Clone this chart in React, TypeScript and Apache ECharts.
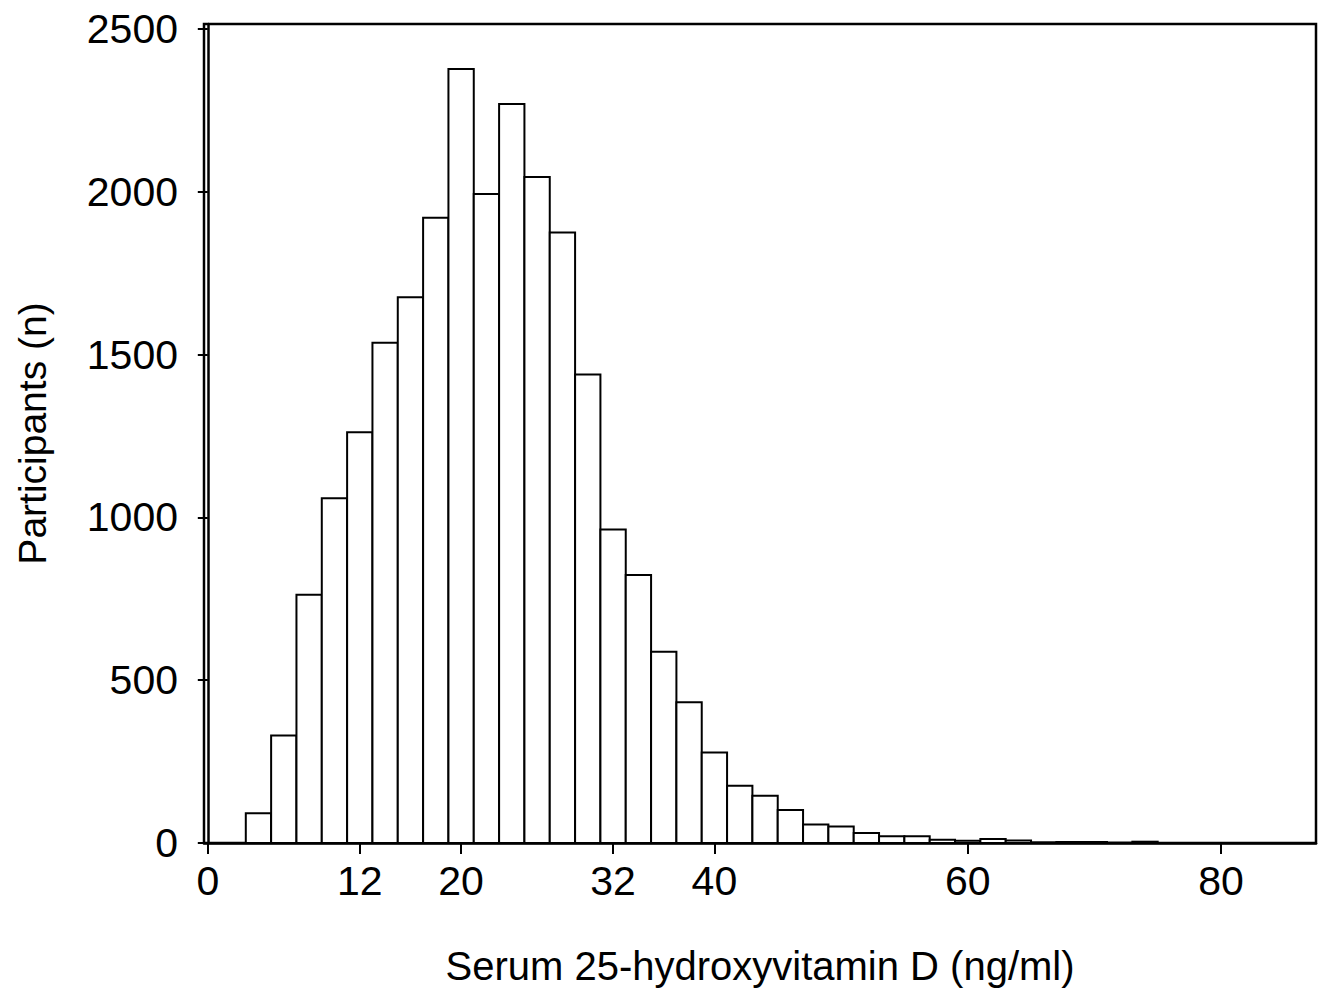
import React, { useEffect, useRef } from "react";
import * as echarts from "echarts";

// Histogram bin edges (ng/ml) and participant counts per bin
const binEdges = [3, 5, 7, 9, 11, 13, 15, 17, 19, 21, 23, 25, 27, 29, 31, 33, 35, 37, 39, 41, 43, 45, 47, 49, 51, 53, 55, 57, 59, 61, 63, 65, 67, 69, 71, 73, 75];
const counts = [91, 330, 762, 1059, 1261, 1536, 1676, 1920, 2377, 1993, 2269, 2045, 1875, 1439, 963, 823, 587, 432, 278, 176, 145, 101, 57, 51, 31, 21, 21, 10, 7, 12, 8, 2, 3, 3, 1, 4];

const xTicks = [0, 12, 20, 32, 40, 60, 80];
const yTicks = [0, 500, 1000, 1500, 2000, 2500];

const xTitle = "Serum 25-hydroxyvitamin D (ng/ml)";
const yTitle = "Participants (n)";

const FONT = "'Liberation Sans', Arial, Helvetica, sans-serif";

export default function App() {
  const ref = useRef<HTMLDivElement>(null);

  useEffect(() => {
    if (!ref.current) return;
    const chart = echarts.init(ref.current, null, { renderer: "svg" });
    const data = counts.map((c, i) => [binEdges[i], binEdges[i + 1], c]);

    chart.setOption({
      animation: false,
      backgroundColor: "#fff",
      textStyle: { fontFamily: FONT, color: "#000" },
      grid: {
        left: 204,
        right: 7,
        top: 24,
        bottom: 145,
        containLabel: false,
        outerBoundsMode: "none",
        show: true,
        borderColor: "#000",
        borderWidth: 2.5,
        backgroundColor: "transparent",
      },
      xAxis: {
        type: "value",
        min: -0.3,
        max: 87.5,
        name: xTitle,
        nameLocation: "middle",
        nameGap: 103,
        nameTextStyle: { fontSize: 40, color: "#000", fontFamily: FONT, verticalAlign: "top" },
        axisLine: { show: true, onZero: false, lineStyle: { color: "#000", width: 2.5 } },
        axisTick: { show: true, length: 11, customValues: xTicks, lineStyle: { color: "#000", width: 2 } },
        axisLabel: {
          customValues: xTicks,
          fontSize: 41,
          color: "#000",
          margin: 17,
          fontFamily: FONT,
          formatter: (v: number) => String(v),
        },
        splitLine: { show: false },
      },
      yAxis: {
        type: "value",
        min: 0,
        max: 2515,
        name: yTitle,
        nameLocation: "middle",
        nameGap: 152,
        nameRotate: 90,
        nameTextStyle: { fontSize: 39, color: "#000", fontFamily: FONT },
        axisLine: { show: true, lineStyle: { color: "#000", width: 2.5 } },
        axisTick: { show: true, length: 10, customValues: yTicks, lineStyle: { color: "#000", width: 2 } },
        axisLabel: {
          customValues: yTicks,
          fontSize: 41,
          color: "#000",
          margin: 26,
          fontFamily: FONT,
          formatter: (v: number) => String(v),
        },
        splitLine: { show: false },
      },
      series: [
        {
          type: "custom",
          data,
          encode: { x: [0, 1], y: 2 },
          clip: true,
          renderItem: (params: any, api: any) => {
            const lo = api.value(0);
            const hi = api.value(1);
            const n = api.value(2);
            const p0 = api.coord([lo, n]);
            const p1 = api.coord([hi, 0]);
            return {
              type: "rect",
              shape: { x: p0[0], y: p0[1], width: p1[0] - p0[0], height: p1[1] - p0[1] },
              style: { fill: "#fff", stroke: "#000", lineWidth: 2 },
            };
          },
        },
      ],
    });

    return () => chart.dispose();
  }, []);

  return (
    <div
      ref={ref}
      style={{ position: "fixed", left: 0, top: 0, width: 1323, height: 988, background: "#fff" }}
    />
  );
}
